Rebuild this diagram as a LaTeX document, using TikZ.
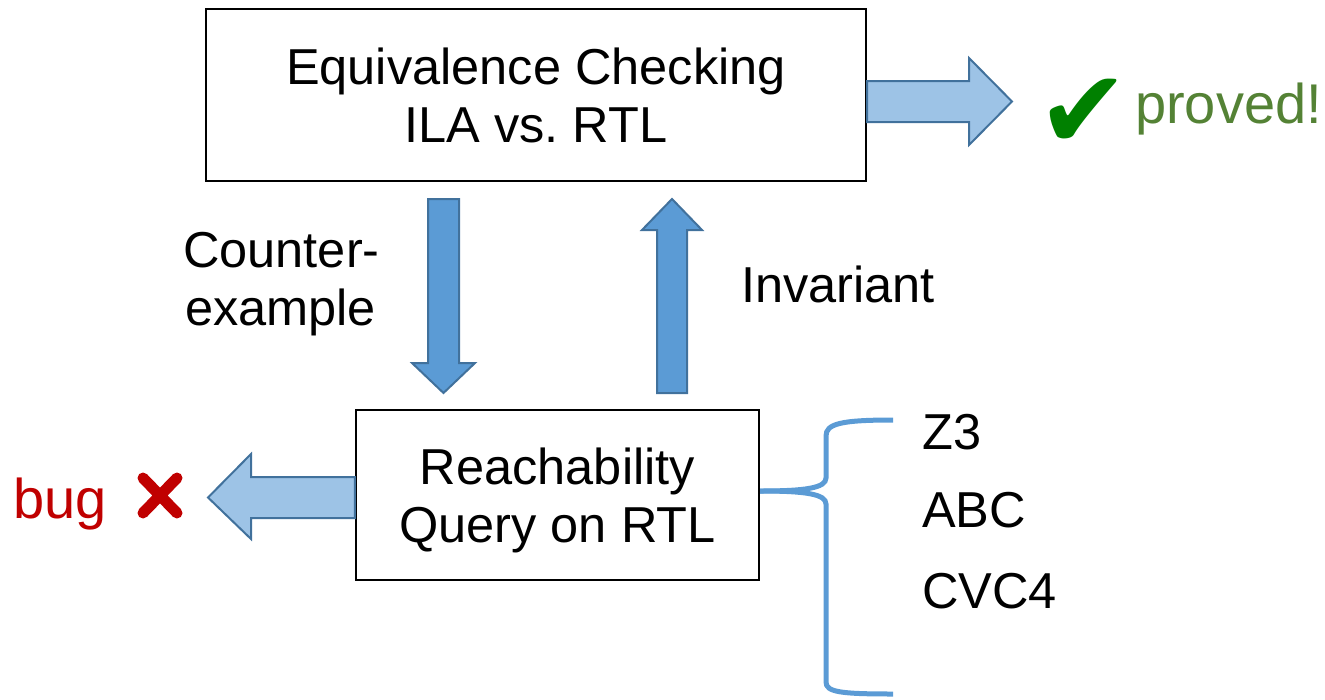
\documentclass[tikz,border=0pt]{standalone}
\usepackage{fontspec}
\setmainfont{Liberation Sans}
\newfontfamily\symfont{DejaVu Sans}
\frenchspacing
\definecolor{arrdark}{HTML}{5B9BD5}
\definecolor{arrlight}{HTML}{9DC3E6}
\definecolor{arredge}{HTML}{41719C}
\definecolor{okgreen}{HTML}{008000}
\definecolor{provedtxt}{HTML}{548235}
\definecolor{bugred}{HTML}{C00000}
\tikzset{
  box/.style={draw=black, line width=2.4pt, align=center, text depth=0pt,
    font=\fontsize{50.5}{58.5}\selectfont, inner sep=0pt},
  lbl/.style={font=\fontsize{50.5}{58.5}\selectfont, inner sep=0pt, anchor=base west},
  biglbl/.style={font=\fontsize{56}{60}\selectfont, inner sep=0pt, anchor=base west},
  darkarrow/.style={fill=arrdark, draw=arredge, line width=2pt, line join=miter},
  lightarrow/.style={fill=arrlight, draw=arredge, line width=2pt, line join=miter},
  bracestyle/.style={draw=arrdark, line width=5pt, line cap=butt}
}
\begin{document}
\begin{tikzpicture}[x=1pt,y=-1pt]
\useasboundingbox (0,0) rectangle (1325,699);
% boxes
\node[box, minimum width=660, minimum height=172] (eq) at (536,95) {Equivalence Checking\\ILA vs. RTL};
\node[box, minimum width=403, minimum height=170] (rq) at (557.5,495) {Reachability\\Query on RTL};
% right (proved) arrow
\draw[lightarrow] (eq.east |- 0,81) -- (969,81) -- (969,58) -- (1012,101.5) -- (969,145) -- (969,122) -- (eq.east |- 0,122) -- cycle;
\node[font=\symfont\fontsize{110}{110}\selectfont, text=okgreen, inner sep=0pt, anchor=base west] (chk) at (1037,148) {✔};
\node[biglbl, text=provedtxt] (proved) at (1135,123) {proved!};
% down arrow (counter-example)
\draw[darkarrow] (428,199) -- (459,199) -- (459,363) -- (475,363) -- (443.5,393) -- (412,363) -- (428,363) -- cycle;
\node[lbl] (cex1) at (183,267) {Counter-};
\node[lbl] (cex2) at (185,325) {example};
% up arrow (invariant)
\draw[darkarrow] (657,393) -- (687,393) -- (687,230) -- (702,230) -- (672,199) -- (642,230) -- (657,230) -- cycle;
\node[lbl] (inv) at (741,302) {Invariant};
% left (bug) arrow
\draw[lightarrow] (rq.west |- 0,477) -- (251,477) -- (251,454) -- (208,497.5) -- (251,539) -- (251,518) -- (rq.west |- 0,518) -- cycle;
\node[biglbl, text=bugred] (bug) at (13,518) {bug};
\coordinate (x1) at (143,478);
\coordinate (x2) at (177,513);
\coordinate (x3) at (143,513);
\coordinate (x4) at (177,478);
\draw[bugred, line width=11pt, line cap=round] (x1) -- (x2) (x3) -- (x4);
% brace
\coordinate (bmid) at (rq.east |- 0,491);
\coordinate (btop) at (893,420);
\coordinate (bbot) at (893,694);
\draw[bracestyle] (bmid) .. controls (805,491) and (826,488) .. (826,478) -- (826,436) .. controls (826,424) and (840,420) .. (btop);
\draw[bracestyle] (bmid) .. controls (805,491) and (826,494) .. (826,504) -- (826,682) .. controls (826,692) and (840,694) .. (bbot);
\node[lbl] (z3) at (922,449) {Z3};
\node[lbl] (abc) at (922,527) {ABC};
\node[lbl] (cvc) at (922,608) {CVC4};
\end{tikzpicture}
\end{document}
